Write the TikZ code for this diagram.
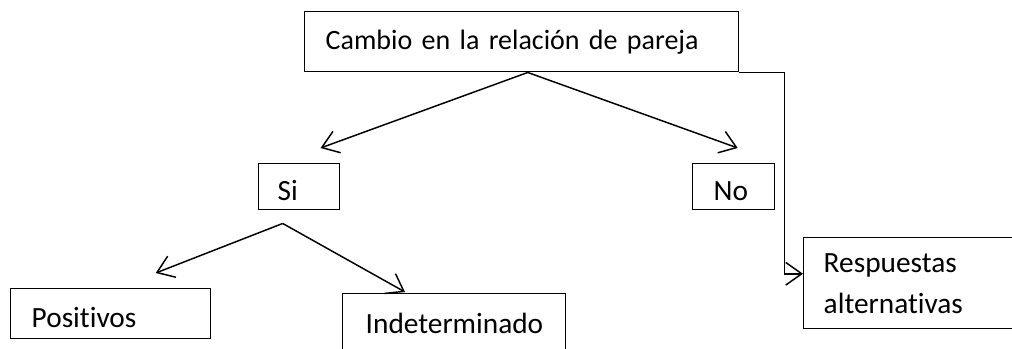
\documentclass[tikz,border=0pt]{standalone}
\usepackage{fontspec}
\setmainfont{Carlito}[Ligatures=NoCommon]
\usetikzlibrary{arrows.meta,positioning}
\newcommand{\diagfont}{\fontsize{22}{30.75}\selectfont}

\begin{document}
\begin{tikzpicture}[
x=0.75pt,y=-0.75pt,
font=\diagfont,
box/.style={draw,line width=1.1pt,rectangle,anchor=north west,inner ysep=0pt,align=left},
low/.style={text height=21pt,text depth=0pt},
branch/.style={->,line width=1.1pt,>={Straight Barb[length=12pt,width=17pt]}},
]
\useasboundingbox (0,0) rectangle (1012,349);

% Boxes
\node[box,font=\fontsize{21}{30.75}\selectfont,minimum width=325.5pt,minimum height=45pt,text width=294pt,inner xsep=15.75pt]
  (cambio) at (304,11) {Cambio en la relación de pareja};
\node[box,low,minimum width=60.75pt,minimum height=34.5pt,text width=32.25pt,inner xsep=14.25pt]
  (si) at (258,163) {Si};
\node[box,low,minimum width=61.5pt,minimum height=34.5pt,text width=30pt,inner xsep=15.75pt]
  (no) at (692,163) {No};
\node[box,low,minimum width=150pt,minimum height=37.5pt,text width=118.5pt,inner xsep=15.75pt]
  (positivos) at (10,288) {Positivos};
\node[box,minimum width=167.25pt,minimum height=45pt,text width=132.75pt,inner xsep=17.25pt]
  (indet) at (342,293) {Indeterminado};
\node[box,minimum width=159pt,minimum height=68.25pt,text width=129pt,inner xsep=15pt]
  (resp) at (803,237) {Respuestas\\alternativas};

% Branches
\draw[branch] ([xshift=4.5pt]cambio.south) -- ([xshift=16pt,yshift=11.25pt]si.north);
\draw[branch] ([xshift=4.5pt]cambio.south) -- ([xshift=3pt,yshift=11.25pt]no.north);
\draw[branch] ([xshift=-12.4pt,yshift=-9.75pt]si.south) -- ([xshift=33.75pt,yshift=11.25pt]positivos.north);
\draw[branch] ([xshift=-12.4pt,yshift=-9.75pt]si.south) -- ([xshift=47.25pt,yshift=0.75pt]indet.north west);
\draw[branch] (cambio.south east) -- ++(45,0) |- ([yshift=7.1pt]resp.west);

\end{tikzpicture}
\end{document}
